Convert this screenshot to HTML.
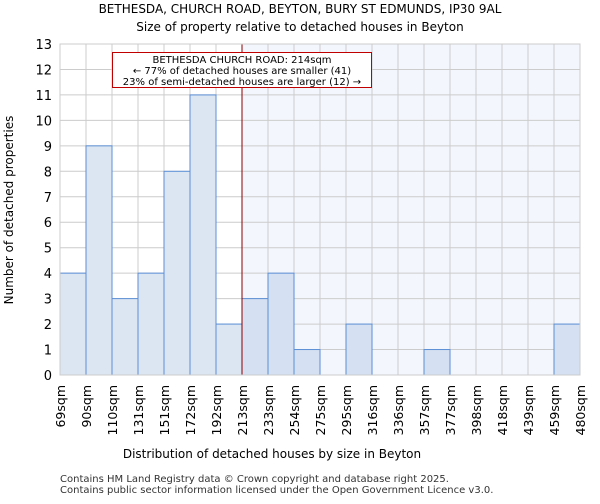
<!DOCTYPE html>
<html><head><meta charset="utf-8"><style>
body{margin:0;background:#fff;font-family:"DejaVu Sans","Liberation Sans",sans-serif;}
svg text{font-family:"DejaVu Sans","Liberation Sans",sans-serif;}
</style></head><body>
<svg id="c" width="600" height="500">
<text x="300" y="13" text-anchor="middle" font-size="12">BETHESDA, CHURCH ROAD, BEYTON, BURY ST EDMUNDS, IP30 9AL</text>
<text x="300" y="31" text-anchor="middle" font-size="12">Size of property relative to detached houses in Beyton</text>
<g id="plot"></g>
<text x="272" y="458" text-anchor="middle" font-size="12">Distribution of detached houses by size in Beyton</text>
<text transform="translate(13,210) rotate(-90)" text-anchor="middle" font-size="12">Number of detached properties</text>
<text x="60" y="482" font-size="10" fill="#333">Contains HM Land Registry data © Crown copyright and database right 2025.</text>
<text x="60" y="493" font-size="10" fill="#333">Contains public sector information licensed under the Open Government Licence v3.0.</text>
</svg>
<script>
const categories=["69sqm","90sqm","110sqm","131sqm","151sqm","172sqm","192sqm","213sqm","233sqm","254sqm","275sqm","295sqm","316sqm","336sqm","357sqm","377sqm","398sqm","418sqm","439sqm","459sqm","480sqm"];
const counts=[4,9,3,4,8,11,2,3,4,1,0,2,0,0,1,0,0,0,0,2];
const yTicks=[0,1,2,3,4,5,6,7,8,9,10,11,12,13];
const markerIndex=7;
const L=60,R=580,T=44,B=375,yMax=13;
const bw=(R-L)/counts.length;
const xs=i=>L+i*bw;
const ys=v=>B-(v/yMax)*(B-T);
const NS="http://www.w3.org/2000/svg";
const g=document.getElementById('plot');
function mk(t,a){const e=document.createElementNS(NS,t);for(const k in a)e.setAttribute(k,a[k]);g.appendChild(e);return e;}
let e=mk('rect',{x:L,y:T,width:R-L,height:B-T,fill:'#fff'});


e=mk('rect',{x:xs(markerIndex),y:T,width:R-xs(markerIndex),height:B-T,fill:'#f3f6fd'});


yTicks.forEach(v=>{
 let l=mk('line',{x1:L,x2:R,y1:ys(v),y2:ys(v),stroke:'#ccc','stroke-width':1});
 
 
 let t=mk('text',{x:L-8,y:ys(v)+5,'text-anchor':'end','font-size':13});
 t.textContent=v;
 
 
});
categories.forEach((c,i)=>{
 let l=mk('line',{x1:xs(i),x2:xs(i),y1:T,y2:B,stroke:'#ccc','stroke-width':1});
 
 
 let t=mk('text',{transform:`translate(${xs(i)+5},${B+10}) rotate(-90)`,'text-anchor':'end','font-size':12.5});
 t.textContent=c;
 
 
});
counts.forEach((v,i)=>{
 if(v<=0)return;
 let r=mk('rect',{x:xs(i),y:ys(v),width:bw,height:B-ys(v),fill:i>=markerIndex?'#d5e0f2':'#dce6f3',stroke:'#5b8fd6','stroke-width':1});
 
 
});
e=mk('line',{x1:xs(markerIndex),x2:xs(markerIndex),y1:T,y2:B,stroke:'#8b0000','stroke-width':1});


e=mk('rect',{x:112.5,y:52.5,width:259,height:35,fill:'#fff',stroke:'#c00000','stroke-width':1});


["BETHESDA CHURCH ROAD: 214sqm","← 77% of detached houses are smaller (41)","23% of semi-detached houses are larger (12) →"].forEach((s,k)=>{
 let t=mk('text',{x:242,y:63+k*11,'text-anchor':'middle','font-size':10});
 t.textContent=s;
 
 
});
e=mk('rect',{x:L,y:T,width:R-L,height:B-T,fill:'none',stroke:'#ccc'});


</script>
</body></html>
